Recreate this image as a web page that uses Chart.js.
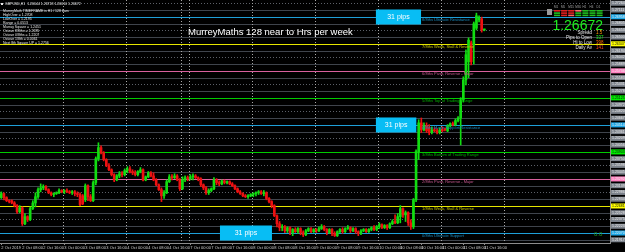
<!DOCTYPE html>
<html>
<head>
<meta charset="utf-8">
<script src="https://cdn.jsdelivr.net/npm/chart.js@4"></script>
<style>
html, body { margin: 0; padding: 0; background: #000; }
canvas { display: block; }
</style>
</head>
<body>
<canvas id="myChart" width="625" height="252"></canvas>
<script>
// GBPUSD H1 candles, 2 Oct - 11 Oct (bar index = hour slot)
var opens = [
  1.2287,1.2296,1.2287,1.2280,1.2280,1.2275,1.2269,1.2255,1.2264,1.2228,1.2244,1.2237,1.2262,1.2275,1.2289,1.2305,1.2309,1.2312,1.2305,1.2298,
  1.2294,1.2296,1.2298,1.2303,1.2300,1.2303,1.2300,1.2298,1.2300,1.2296,1.2294,1.2291,1.2282,1.2314,1.2289,1.2280,1.2321,1.2375,1.2400,1.2388,
  1.2373,1.2359,1.2350,1.2339,1.2327,1.2336,1.2341,1.2339,1.2348,1.2352,1.2346,1.2343,1.2339,1.2346,1.2350,1.2327,1.2334,1.2343,1.2336,1.2327,
  1.2316,1.2305,1.2291,1.2298,1.2323,1.2334,1.2332,1.2336,1.2327,1.2307,1.2327,1.2332,1.2330,1.2334,1.2336,1.2332,1.2330,1.2316,1.2309,1.2298,
  1.2303,1.2307,1.2327,1.2321,1.2318,1.2325,1.2321,1.2323,1.2318,1.2314,1.2307,1.2300,1.2296,1.2291,1.2289,1.2291,1.2294,1.2296,1.2298,1.2300,
  1.2296,1.2298,1.2285,1.2278,1.2269,1.2246,1.2228,1.2219,1.2221,1.2212,1.2219,1.2208,1.2215,1.2210,1.2217,1.2208,1.2203,1.2212,1.2217,1.2210,
  1.2215,1.2212,1.2217,1.2221,1.2215,1.2208,1.2215,1.2206,1.2201,1.2210,1.2215,1.2210,1.2217,1.2219,1.2212,1.2217,1.2210,1.2206,1.2212,1.2215,
  1.2210,1.2215,1.2219,1.2215,1.2221,1.2226,1.2219,1.2224,1.2219,1.2228,1.2233,1.2230,1.2244,1.2262,1.2248,1.2253,1.2230,1.2221,1.2282,1.2391,
  1.2456,1.2440,1.2449,1.2445,1.2434,1.2440,1.2438,1.2434,1.2440,1.2443,1.2438,1.2449,1.2454,1.2452,1.2461,1.2467,1.2508,1.2553,1.2594,1.2637,
  1.2632,1.2670,1.2689,1.2691,1.2666
];
var highs = [
  1.2300,1.2298,1.2289,1.2282,1.2282,1.2278,1.2271,1.2269,1.2266,1.2251,1.2246,1.2266,1.2280,1.2298,1.2309,1.2318,1.2316,1.2314,1.2307,1.2300,
  1.2298,1.2300,1.2307,1.2305,1.2305,1.2307,1.2303,1.2303,1.2303,1.2300,1.2298,1.2294,1.2318,1.2316,1.2294,1.2325,1.2379,1.2411,1.2404,1.2391,
  1.2375,1.2364,1.2352,1.2341,1.2339,1.2346,1.2346,1.2352,1.2357,1.2357,1.2350,1.2348,1.2348,1.2355,1.2352,1.2336,1.2346,1.2346,1.2343,1.2330,
  1.2318,1.2309,1.2303,1.2327,1.2339,1.2339,1.2341,1.2339,1.2330,1.2334,1.2336,1.2336,1.2339,1.2341,1.2339,1.2334,1.2332,1.2318,1.2312,1.2307,
  1.2309,1.2332,1.2330,1.2325,1.2327,1.2327,1.2325,1.2325,1.2321,1.2316,1.2309,1.2303,1.2298,1.2294,1.2294,1.2296,1.2298,1.2300,1.2303,1.2303,
  1.2303,1.2300,1.2287,1.2280,1.2271,1.2248,1.2233,1.2226,1.2224,1.2221,1.2221,1.2217,1.2219,1.2219,1.2219,1.2212,1.2215,1.2219,1.2219,1.2217,
  1.2217,1.2221,1.2226,1.2224,1.2217,1.2217,1.2217,1.2210,1.2212,1.2217,1.2219,1.2219,1.2224,1.2221,1.2219,1.2219,1.2212,1.2215,1.2217,1.2217,
  1.2217,1.2221,1.2224,1.2224,1.2230,1.2228,1.2226,1.2226,1.2230,1.2237,1.2248,1.2251,1.2269,1.2264,1.2257,1.2255,1.2237,1.2285,1.2395,1.2463,
  1.2467,1.2456,1.2456,1.2452,1.2447,1.2445,1.2443,1.2445,1.2447,1.2445,1.2452,1.2456,1.2458,1.2465,1.2470,1.2513,1.2560,1.2621,1.2648,1.2641,
  1.2684,1.2704,1.2698,1.2695,1.2668
];
var lows = [
  1.2285,1.2282,1.2278,1.2275,1.2273,1.2266,1.2251,1.2253,1.2224,1.2226,1.2233,1.2235,1.2260,1.2266,1.2285,1.2300,1.2305,1.2303,1.2296,1.2291,
  1.2289,1.2294,1.2296,1.2298,1.2296,1.2298,1.2296,1.2294,1.2291,1.2289,1.2269,1.2271,1.2278,1.2280,1.2278,1.2278,1.2316,1.2370,1.2386,1.2370,
  1.2357,1.2348,1.2336,1.2323,1.2325,1.2332,1.2334,1.2336,1.2343,1.2343,1.2339,1.2336,1.2336,1.2343,1.2325,1.2325,1.2332,1.2334,1.2325,1.2314,
  1.2303,1.2278,1.2285,1.2296,1.2321,1.2327,1.2330,1.2325,1.2303,1.2305,1.2323,1.2325,1.2327,1.2327,1.2330,1.2325,1.2312,1.2305,1.2294,1.2294,
  1.2300,1.2305,1.2316,1.2314,1.2316,1.2318,1.2318,1.2316,1.2312,1.2305,1.2298,1.2294,1.2289,1.2287,1.2285,1.2289,1.2289,1.2291,1.2294,1.2294,
  1.2291,1.2282,1.2275,1.2264,1.2244,1.2221,1.2212,1.2212,1.2208,1.2208,1.2203,1.2201,1.2208,1.2206,1.2203,1.2199,1.2201,1.2210,1.2208,1.2208,
  1.2208,1.2210,1.2215,1.2212,1.2203,1.2206,1.2201,1.2199,1.2199,1.2208,1.2206,1.2208,1.2215,1.2208,1.2210,1.2206,1.2201,1.2203,1.2210,1.2208,
  1.2208,1.2212,1.2212,1.2212,1.2217,1.2217,1.2217,1.2215,1.2217,1.2226,1.2228,1.2228,1.2230,1.2242,1.2233,1.2224,1.2215,1.2217,1.2278,1.2373,
  1.2434,1.2438,1.2434,1.2429,1.2431,1.2436,1.2431,1.2431,1.2436,1.2438,1.2436,1.2447,1.2449,1.2449,1.2458,1.2406,1.2503,1.2542,1.2558,1.2587,
  1.2589,1.2666,1.2684,1.2661,1.2664
];
var closes = [
  1.2296,1.2287,1.2280,1.2278,1.2275,1.2269,1.2255,1.2264,1.2228,1.2244,1.2237,1.2262,1.2275,1.2289,1.2305,1.2309,1.2312,1.2305,1.2298,1.2294,
  1.2296,1.2298,1.2303,1.2300,1.2303,1.2300,1.2298,1.2300,1.2296,1.2294,1.2271,1.2273,1.2314,1.2289,1.2280,1.2321,1.2375,1.2400,1.2388,1.2373,
  1.2359,1.2350,1.2339,1.2327,1.2336,1.2341,1.2339,1.2348,1.2352,1.2346,1.2343,1.2339,1.2346,1.2350,1.2327,1.2334,1.2343,1.2336,1.2327,1.2316,
  1.2305,1.2291,1.2298,1.2323,1.2334,1.2332,1.2336,1.2327,1.2307,1.2327,1.2332,1.2330,1.2334,1.2336,1.2332,1.2330,1.2316,1.2309,1.2298,1.2303,
  1.2307,1.2327,1.2321,1.2318,1.2325,1.2321,1.2323,1.2318,1.2314,1.2307,1.2300,1.2296,1.2291,1.2289,1.2291,1.2294,1.2296,1.2298,1.2300,1.2296,
  1.2298,1.2285,1.2278,1.2269,1.2246,1.2228,1.2219,1.2221,1.2212,1.2219,1.2208,1.2215,1.2210,1.2217,1.2208,1.2203,1.2212,1.2217,1.2210,1.2215,
  1.2212,1.2217,1.2221,1.2215,1.2208,1.2215,1.2206,1.2201,1.2210,1.2215,1.2210,1.2217,1.2219,1.2212,1.2217,1.2210,1.2206,1.2212,1.2215,1.2210,
  1.2215,1.2219,1.2215,1.2221,1.2226,1.2219,1.2224,1.2219,1.2228,1.2233,1.2230,1.2244,1.2262,1.2248,1.2253,1.2230,1.2221,1.2282,1.2391,1.2456,
  1.2440,1.2449,1.2438,1.2434,1.2440,1.2438,1.2434,1.2440,1.2438,1.2440,1.2449,1.2454,1.2452,1.2461,1.2467,1.2508,1.2553,1.2610,1.2643,1.2594,
  1.2680,1.2698,1.2693,1.2666,1.2667
];

// time axis labels, one every 8 bars
var labelBars = [0,8,16,24,32,40,48,56,64,72,80,88,96,104,112,120,128,136,144,152,160,168,176,184];
var timeLabels = ["2 Oct 2019","2 Oct 08:00","2 Oct 16:00","3 Oct 00:00","3 Oct 08:00","3 Oct 16:00",
  "4 Oct 00:00","4 Oct 08:00","4 Oct 16:00","7 Oct 00:00","7 Oct 08:00","7 Oct 16:00",
  "8 Oct 00:00","8 Oct 08:00","8 Oct 16:00","9 Oct 00:00","9 Oct 08:00","9 Oct 16:00",
  "10 Oct 00:00","10 Oct 08:00","10 Oct 16:00","11 Oct 00:00","11 Oct 08:00","11 Oct 16:00"];
// period separators (between bars)
var sessionBreaks = [23.5, 47.5, 68.5, 71.5, 95.5, 119.5, 143.5, 167.5, 191.5];

// Murrey Math levels 0/8 .. 8/8
var levels = [1.22070, 1.22681, 1.23291, 1.23901, 1.24512, 1.25122, 1.25732, 1.26343, 1.26953];
var levelNames = ["0/8ths Ultimate Support","1/8ths Weak, Stall & Reverse","2/8ths Pivot, Reverse - Major",
  "3/8ths Bottom of Trading Range","4/8ths Major Support/Resistance","5/8ths Top of Trading Range",
  "6/8ths Pivot, Reverse - Major","7/8ths Weak, Stall & Reverse","8/8ths Ultimate Resistance"];
var pipsText = ["31 pips","31 pips","31 pips"];

var infoLines = ["MurreyMath TIMEFRAME is H1 / 128 bars","HighOver = 1.2708","LowOver = 1.2195","Range = 0.0513",
  "Murray Square = 1.2451","Octave 8/8ths = 1.2695","Octave 0/8ths = 1.2207","Octave 1/8th = 0.0061","Next 8th Square UP = 1.2756"];
var panelRows = ["Spread","Pips to Open","Hi to Low","Daily Av"];
var panelValues = ["1.5","337","398","141"];
var tfNames = ["M1","M5","M15","M30","H1","H4","D1"];

var lineColors = ['#1e9fd8','#e6e600','#d8609e','#00cc00','#1e9fd8','#00cc00','#d8609e','#e6e600','#1e9fd8'];
var textColors = ['#1a8cc0','#c8c800','#c85890','#00b000','#1a8cc0','#00b000','#c85890','#c8c800','#1a8cc0'];
var bull = '#11dd11', bear = '#ee1111';

var candleColors = closes.map(function (c, i) { return c >= opens[i] ? bull : bear; });
var wickData = closes.map(function (c, i) { return { x: i, y: [lows[i], highs[i]] }; });
var bodyData = closes.map(function (c, i) { return { x: i, y: [opens[i], c] }; });

var FONT = 'Liberation Sans';

var murreyPlugin = {
  id: 'murrey',
  beforeDraw: function (chart) {
    var ctx = chart.ctx;
    ctx.save();
    ctx.fillStyle = '#000';
    ctx.fillRect(0, 0, chart.width, chart.height);
    ctx.restore();
  },
  beforeDatasetsDraw: function (chart) {
    var ctx = chart.ctx, a = chart.chartArea, xs = chart.scales.x, ys = chart.scales.y;
    ctx.save();
    ctx.beginPath();
    ctx.rect(a.left, a.top, a.right - a.left, a.bottom - a.top);
    ctx.clip();
    ctx.lineWidth = 1;
    // 1/32 grid: level, grey, dotted, grey
    var q = (levels[1] - levels[0]) / 4;
    for (var k = -4; k <= 40; k++) {
      var v = levels[0] + k * q;
      if (v < ys.min || v > ys.max) continue;
      var m = ((k % 4) + 4) % 4;
      var py = Math.round(ys.getPixelForValue(v)) + 0.5;
      if (m === 0) { ctx.setLineDash([]); ctx.strokeStyle = lineColors[k / 4]; }
      else if (m === 2) { ctx.setLineDash([1, 2]); ctx.strokeStyle = '#5c6068'; }
      else { ctx.setLineDash([]); ctx.strokeStyle = '#3f444c'; }
      ctx.beginPath(); ctx.moveTo(a.left, py); ctx.lineTo(a.right, py); ctx.stroke();
    }
    // period separators
    ctx.setLineDash([1, 2]);
    ctx.strokeStyle = '#a8a8a8';
    sessionBreaks.forEach(function (b) {
      var px = Math.round(xs.getPixelForValue(b)) + 0.5;
      ctx.beginPath(); ctx.moveTo(px, a.top); ctx.lineTo(px, a.bottom); ctx.stroke();
    });
    ctx.restore();
  },
  afterDatasetsDraw: function (chart) {
    var ctx = chart.ctx, a = chart.chartArea, xs = chart.scales.x, ys = chart.scales.y;
    ctx.save();
    ctx.textBaseline = 'middle';

    // level captions
    ctx.font = '4px ' + FONT;
    ctx.textAlign = 'left';
    var lx = xs.getPixelForValue(160.3);
    levels.forEach(function (v, i) {
      ctx.fillStyle = textColors[i];
      ctx.fillText(levelNames[i], lx, ys.getPixelForValue(v) + 3);
    });

    // "31 pips" boxes on 8/8, 4/8 and 0/8
    var boxes = [{ lv: 8, from: 142.7, to: 159.9 }, { lv: 4, from: 142.7, to: 158.1 }, { lv: 0, from: 83.3, to: 103.1 }];
    boxes.forEach(function (b, i) {
      var x0 = xs.getPixelForValue(b.from), x1 = xs.getPixelForValue(b.to);
      var cy = ys.getPixelForValue(levels[b.lv]);
      ctx.fillStyle = '#08bdf4';
      ctx.fillRect(x0, cy - 7.5, x1 - x0, 15);
      ctx.fillStyle = '#ffffff';
      ctx.font = '7px ' + FONT;
      ctx.textAlign = 'center';
      ctx.fillText(pipsText[i], (x0 + x1) / 2, cy);
    });

    // title
    ctx.textAlign = 'left';
    ctx.fillStyle = '#ffffff';
    ctx.font = '9.5px ' + FONT;
    ctx.fillText('MurreyMaths 128 near to Hrs per week', 188, 32);

    // top-left info block
    ctx.font = '3.5px ' + FONT;
    ctx.fillStyle = '#e8e8e8';
    ctx.fillRect(1, 3, 2, 2);
    ctx.fillText('GBPUSD,H1  1.26644 1.26718 1.26610 1.26672', 5, 4);
    infoLines.forEach(function (t, i) { ctx.fillText(t, 3, 11 + i * 4); });

    // top-right timeframe strip
    ctx.fillStyle = '#9a9a9a';
    ctx.fillRect(547, 9, 5, 6);
    ctx.font = '3px ' + FONT;
    var tfCols = [['#e02020', '#20c020', '#20c020'], ['#e02020', '#e02020', '#e02020'], ['#e02020', '#e02020', '#ff6060'],
      ['#ff7070', '#20c020', '#20c020'], ['#20c020', '#20c020', '#20c020'], ['#20c020', '#20c020', '#20c020'], ['#20c020', '#20c020', '#20c020']];
    tfNames.forEach(function (n, c) {
      var cx = 554 + c * 7.1;
      ctx.fillStyle = '#a0a0a0';
      ctx.fillText(n, cx, 7);
      for (var r = 0; r < 3; r++) {
        ctx.fillStyle = tfCols[c][r];
        ctx.fillRect(cx, 10 + r * 2.3, 6, 1.6);
      }
    });

    // price and stats
    ctx.textAlign = 'right';
    ctx.textBaseline = 'alphabetic';
    ctx.fillStyle = '#1ef01e';
    ctx.font = '14px ' + FONT;
    ctx.fillText('1.26672', 603, 29.5);
    ctx.textBaseline = 'middle';
    ctx.font = '4.5px ' + FONT;
    var valColors = ['#ff9900', '#22ee22', '#ff6a00', '#ff4a1a'];
    panelRows.forEach(function (t, i) {
      var yy = 33 + i * 5;
      ctx.textAlign = 'right';
      ctx.fillStyle = '#e8e8e8';
      ctx.fillText(t, 592, yy);
      ctx.textAlign = 'left';
      ctx.fillStyle = valColors[i];
      ctx.fillText(panelValues[i], 596, yy);
    });

    ctx.fillStyle = '#20a020';
    ctx.font = '6px ' + FONT;
    ctx.fillText('0.0', 594, ys.getPixelForValue(levels[0]) + 1);
    ctx.restore();
  },
  afterDraw: function (chart) {
    // price axis boxes on every 1/32 step
    var ctx = chart.ctx, a = chart.chartArea, ys = chart.scales.y;
    var boxCol = ['#1ea8e8', '#ffff00', '#ff80c0', '#00ee00', '#1ea8e8', '#00ee00', '#ff80c0', '#ffff00', '#1ea8e8'];
    ctx.save();
    ctx.font = '3.5px ' + FONT;
    ctx.textAlign = 'left';
    ctx.textBaseline = 'middle';
    var q = (levels[1] - levels[0]) / 4;
    for (var k = -4; k <= 40; k++) {
      var v = levels[0] + k * q;
      if (v < ys.min + q / 3 || v > ys.max - q / 3) continue;
      var py = ys.getPixelForValue(v);
      var isLevel = ((k % 4) + 4) % 4 === 0;
      ctx.fillStyle = isLevel ? boxCol[k / 4] : '#7c828b';
      ctx.fillRect(a.right + 1, py - 2.5, 14, 5);
      ctx.fillStyle = isLevel && (k / 4 === 1 || k / 4 === 7 || k / 4 === 3 || k / 4 === 5) ? '#101010' : '#eeeeee';
      ctx.fillText(v.toFixed(5), a.right + 2, py);
    }
    ctx.restore();
  }
};

var ctx = document.getElementById('myChart');
window.chart = new Chart(ctx, {
  type: 'bar',
  data: {
    datasets: [
      { data: wickData, backgroundColor: candleColors, grouped: false, maxBarThickness: 1,
        categoryPercentage: 1, barPercentage: 1, borderWidth: 0, order: 2 },
      { data: bodyData, backgroundColor: candleColors, grouped: false, maxBarThickness: 2,
        categoryPercentage: 1, barPercentage: 1, borderWidth: 0, minBarLength: 1, order: 1 }
    ]
  },
  options: {
    responsive: false,
    animation: false,
    devicePixelRatio: 1,
    events: [],
    layout: { padding: 0 },
    plugins: { legend: { display: false }, tooltip: { enabled: false }, title: { display: false } },
    scales: {
      x: {
        type: 'linear', min: -0.5, max: 231.88, position: 'bottom', offset: false,
        afterBuildTicks: function (axis) { axis.ticks = labelBars.map(function (b) { return { value: b }; }); },
        afterFit: function (axis) { axis.height = 9; axis.paddingLeft = 0; axis.paddingRight = 0; },
        ticks: {
          autoSkip: false, maxRotation: 0, minRotation: 0, align: 'start', padding: 0,
          color: '#cfcfcf', font: { family: FONT, size: 4 },
          callback: function (v, i) { return timeLabels[i]; }
        },
        grid: { offset: false, drawOnChartArea: false, drawTicks: true, tickLength: 2, tickColor: '#8c8c8c' },
        border: { color: '#8c8c8c' }
      },
      y: {
        type: 'linear', position: 'right', min: 1.21844, max: 1.27337,
        afterFit: function (axis) { axis.width = 15; axis.paddingTop = 0; axis.paddingBottom = 0; },
        ticks: { display: false },
        grid: { display: false },
        border: { color: '#8c8c8c' }
      }
    }
  },
  plugins: [murreyPlugin]
});
</script>
</body>
</html>
